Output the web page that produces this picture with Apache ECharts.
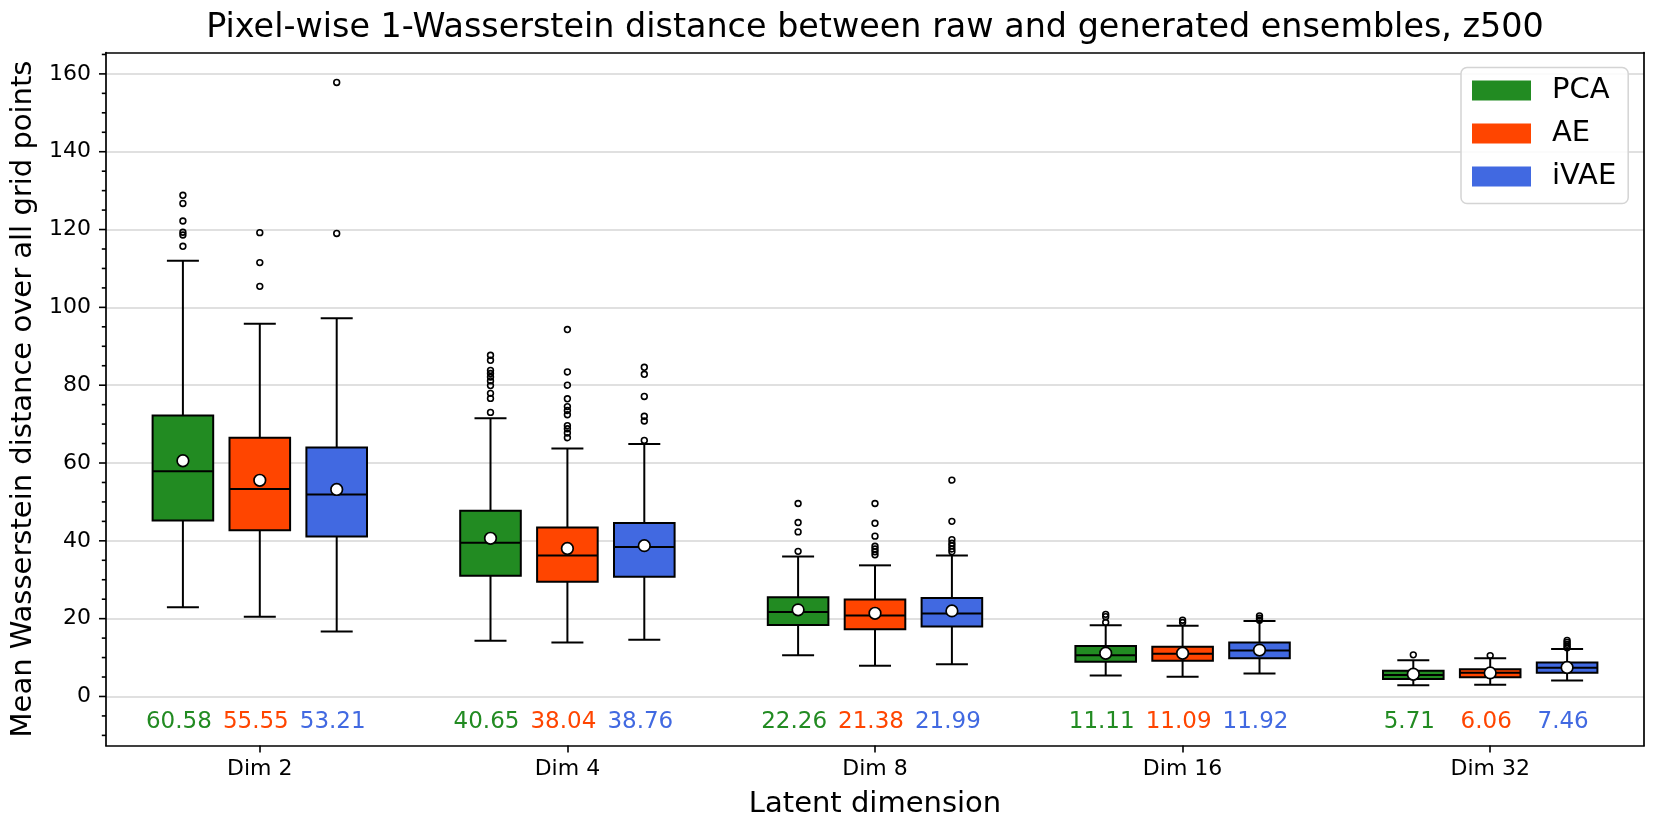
<!DOCTYPE html>
<html>
<head>
<meta charset="utf-8">
<script src="https://cdn.jsdelivr.net/npm/echarts@6/dist/echarts.min.js"></script>
<style>html,body{margin:0;padding:0;background:#fff}#c{width:1660px;height:834px}</style>
</head>
<body>
<div id="c"></div>
<script>
// ---- data ----
const categories = ['Dim 2', 'Dim 4', 'Dim 8', 'Dim 16', 'Dim 32'];
const methods = ['PCA', 'AE', 'iVAE'];
const colors = ['#228B22', '#FF4500', '#4169E1'];

const pcaLow  = [22.9, 14.3, 10.6, 5.4, 2.9];
const pcaQ1   = [45.2, 31.0, 18.4, 8.9, 4.5];
const pcaMed  = [57.9, 39.5, 21.7, 10.6, 5.5];
const pcaQ3   = [72.2, 47.7, 25.5, 13.0, 6.6];
const pcaHigh = [112.0, 71.5, 36.0, 18.3, 9.3];
const pcaMean = [60.58, 40.65, 22.26, 11.11, 5.71];
const pcaOut  = [[128.8, 126.7, 122.2, 119.3, 118.6, 115.7],
                 [87.7, 86.4, 83.8, 83.0, 82.1, 81.1, 79.9, 77.9, 76.6, 73.0],
                 [49.6, 44.7, 42.3, 37.3],
                 [21.1, 20.5, 19.0],
                 [10.7]];

const aeLow  = [20.5, 13.9, 7.9, 5.1, 3.0];
const aeQ1   = [42.7, 29.5, 17.3, 9.2, 4.95];
const aeMed  = [53.3, 36.2, 20.8, 11.0, 6.1];
const aeQ3   = [66.5, 43.4, 24.9, 12.8, 7.0];
const aeHigh = [95.8, 63.7, 33.7, 18.2, 9.8];
const aeMean = [55.55, 38.04, 21.38, 11.09, 6.06];
const aeOut  = [[119.2, 111.5, 105.4],
                [94.3, 83.4, 80.0, 76.5, 74.5, 73.5, 72.4, 69.6, 68.8, 67.7, 66.5],
                [49.6, 44.5, 41.2, 38.6, 37.9, 37.2, 36.4],
                [19.6, 19.0],
                [10.5]];

const ivaeLow  = [16.7, 14.6, 8.3, 5.9, 4.1];
const ivaeQ1   = [41.1, 30.8, 18.0, 9.8, 6.1];
const ivaeMed  = [51.9, 38.4, 21.3, 11.8, 7.4];
const ivaeQ3   = [64.0, 44.6, 25.3, 13.9, 8.7];
const ivaeHigh = [97.2, 64.9, 36.2, 19.4, 12.2];
const ivaeMean = [53.21, 38.76, 21.99, 11.92, 7.46];
const ivaeOut  = [[157.8, 119.0],
                  [84.6, 82.8, 77.1, 72.0, 70.8, 65.8],
                  [55.6, 45.0, 40.3, 39.4, 38.7, 37.9, 37.2],
                  [20.7, 20.1, 19.6],
                  [14.4, 13.9, 13.4, 12.9, 12.5]];

const majorTicks = [0, 20, 40, 60, 80, 100, 120, 140, 160];
const minorTicks = [-10, -5, 5, 10, 15, 25, 30, 35, 45, 50, 55, 65, 70, 75, 85, 90, 95,
                    105, 110, 115, 125, 130, 135, 145, 150, 155, 165];

const titleText = 'Pixel-wise 1-Wasserstein distance between raw and generated ensembles, z500';
const yName = 'Mean Wasserstein distance over all grid points';
const xName = 'Latent dimension';

// ---- layout / style ----
const FONT = 'DejaVu Sans';
const G = { left: 106, right: 16, top: 52.5, bottom: 88.5 };
const Y_MIN = -12.6, Y_MAX = 165.5;
const LABEL_Y = -6.5;
const OFFSETS = [-0.25, 0, 0.25];
const BOX_W = 0.197;
const CAP_HALF = 16;

const sets = [
  [pcaLow, pcaQ1, pcaMed, pcaQ3, pcaHigh, pcaMean, pcaOut],
  [aeLow, aeQ1, aeMed, aeQ3, aeHigh, aeMean, aeOut],
  [ivaeLow, ivaeQ1, ivaeMed, ivaeQ3, ivaeHigh, ivaeMean, ivaeOut]
];

function boxRender(k) {
  return function (params, api) {
    const cat = api.value(0);
    const band = api.size([1, 0])[0];
    const cx = api.coord([cat, 0])[0] + OFFSETS[k] * band;
    const w = BOX_W * band;
    const Y = v => api.coord([cat, v])[1];
    const low = Y(api.value(1)), q1 = Y(api.value(2)), med = Y(api.value(3)),
          q3 = Y(api.value(4)), high = Y(api.value(5)), mean = Y(api.value(6));
    const meanVal = api.value(6);
    const ls = { stroke: '#000', lineWidth: 2 };
    return {
      type: 'group',
      children: [
        { type: 'line', shape: { x1: cx, y1: q1, x2: cx, y2: low }, style: ls },
        { type: 'line', shape: { x1: cx - CAP_HALF, y1: low, x2: cx + CAP_HALF, y2: low }, style: ls },
        { type: 'line', shape: { x1: cx, y1: q3, x2: cx, y2: high }, style: ls },
        { type: 'line', shape: { x1: cx - CAP_HALF, y1: high, x2: cx + CAP_HALF, y2: high }, style: ls },
        { type: 'rect', shape: { x: cx - w / 2, y: q3, width: w, height: q1 - q3 },
          style: { fill: colors[k], stroke: '#000', lineWidth: 2 } },
        { type: 'line', shape: { x1: cx - w / 2, y1: med, x2: cx + w / 2, y2: med }, style: ls },
        { type: 'circle', shape: { cx: cx, cy: mean, r: 5.8 },
          style: { fill: '#fff', stroke: '#000', lineWidth: 1.7 } },
        { type: 'text', x: cx - 4, y: Y(LABEL_Y),
          style: { text: meanVal.toFixed(2), fill: colors[k], font: '23px "' + FONT + '"',
                   align: 'center', verticalAlign: 'middle' } }
      ]
    };
  };
}

function outRender(k) {
  return function (params, api) {
    const cat = api.value(0);
    const band = api.size([1, 0])[0];
    const p = api.coord([cat, api.value(1)]);
    return { type: 'circle', shape: { cx: p[0] + OFFSETS[k] * band, cy: p[1], r: 2.9 },
             style: { fill: 'none', stroke: '#000', lineWidth: 1.6 } };
  };
}

function tickRender(params, api) {
  const y = api.coord([0, api.value(1)])[1];
  const x0 = params.coordSys.x;
  const len = api.value(2) ? 7 : 4.2;
  return { type: 'line', shape: { x1: x0 - len, y1: y, x2: x0, y2: y },
           style: { stroke: '#000', lineWidth: 1.6 } };
}

const series = [];
sets.forEach((s, k) => {
  const rows = categories.map((c, i) => [i, s[0][i], s[1][i], s[2][i], s[3][i], s[4][i], s[5][i]]);
  series.push({
    type: 'custom', name: methods[k], renderItem: boxRender(k),
    itemStyle: { color: colors[k] },
    encode: { x: 0, y: [1, 2, 3, 4, 5, 6] },
    data: rows, z: 3
  });
});
sets.forEach((s, k) => {
  const rows = [];
  s[6].forEach((arr, i) => arr.forEach(v => rows.push([i, v])));
  series.push({
    type: 'custom', name: methods[k] + ' outliers', renderItem: outRender(k),
    encode: { x: 0, y: 1 }, data: rows, z: 4
  });
});
series.push({
  type: 'custom', name: 'yticks', renderItem: tickRender, clip: false, silent: true,
  encode: { x: 0, y: 1 },
  data: majorTicks.map(v => [0, v, 1]).concat(minorTicks.map(v => [0, v, 0])), z: 5
});

const chart = echarts.init(document.getElementById('c'), null, { renderer: 'canvas' });
const plotCenterX = G.left + (1660 - G.left - G.right) / 2;

chart.setOption({
  animation: false,
  backgroundColor: '#fff',
  textStyle: { fontFamily: FONT },
  grid: { left: G.left, right: G.right, top: G.top, bottom: G.bottom, show: false },
  graphic: [{
    type: 'text', x: plotCenterX, y: 28.5,
    style: { text: titleText, font: '33.4px "' + FONT + '"', fill: '#000',
             align: 'center', verticalAlign: 'middle' }
  }],
  legend: {
    data: methods, orient: 'vertical', left: 1461, top: 67.5,
    icon: 'rect', itemWidth: 59, itemHeight: 20, itemGap: 14,
    padding: [8.5, 12, 12.5, 11],
    backgroundColor: 'rgba(255,255,255,0.85)', borderColor: '#d4d4d4', borderWidth: 1.5, borderRadius: 6,
    itemStyle: { borderWidth: 0 },
    textStyle: { fontSize: 29, color: '#000', fontFamily: FONT, padding: [0, 0, 0, 16] },
    selectedMode: false
  },
  xAxis: [{
    type: 'category', data: categories, boundaryGap: true,
    name: xName, nameLocation: 'middle', nameGap: 44,
    nameTextStyle: { fontSize: 29, color: '#000', fontFamily: FONT },
    axisLine: { show: true, onZero: false, lineStyle: { color: '#000', width: 1.7 } },
    axisTick: { show: true, alignWithLabel: true, length: 7, lineStyle: { color: '#000', width: 1.6 } },
    axisLabel: { fontSize: 22, color: '#000', margin: 12.5, fontFamily: FONT },
    splitLine: { show: false }
  }, {
    type: 'category', data: categories, position: 'top', boundaryGap: true,
    axisLine: { show: true, onZero: false, lineStyle: { color: '#000', width: 1.7 } },
    axisTick: { show: false }, axisLabel: { show: false }, splitLine: { show: false }
  }],
  yAxis: [{
    type: 'value', min: Y_MIN, max: Y_MAX, splitNumber: 9,
    name: yName, nameLocation: 'middle', nameGap: 61,
    nameTextStyle: { fontSize: 29, color: '#000', fontFamily: FONT },
    axisLine: { show: true, onZero: false, lineStyle: { color: '#000', width: 1.7 } },
    axisTick: { show: false },
    axisLabel: { fontSize: 22, color: '#000', margin: 15, showMinLabel: false, showMaxLabel: false, fontFamily: FONT },
    splitLine: { show: true, showMinLine: false, showMaxLine: false, lineStyle: { color: '#d6d6d6', width: 1.5 } }
  }, {
    type: 'value', min: Y_MIN, max: Y_MAX, position: 'right',
    axisLine: { show: true, onZero: false, lineStyle: { color: '#000', width: 1.7 } },
    axisTick: { show: false }, axisLabel: { show: false }, splitLine: { show: false }
  }],
  series: series
});
</script>
</body>
</html>
